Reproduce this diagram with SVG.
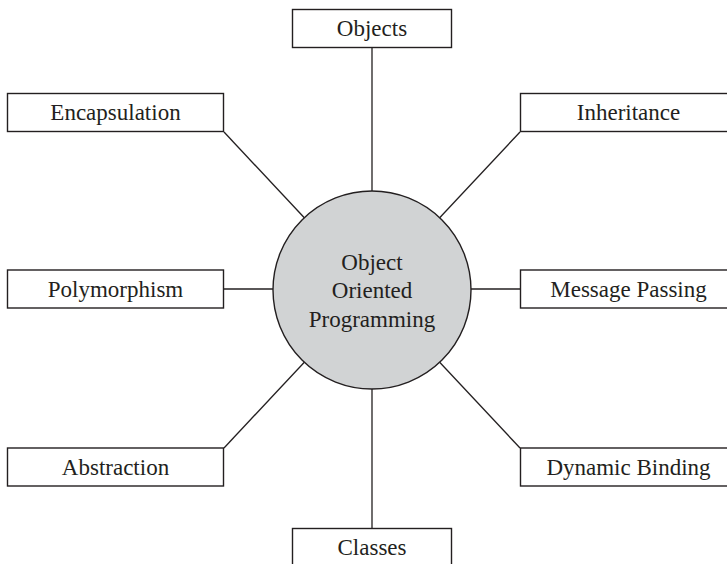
<svg xmlns="http://www.w3.org/2000/svg" width="727" height="564" viewBox="0 0 727 564">
  <style>
    .box { fill: #ffffff; stroke: #231f20; stroke-width: 1.4; }
    .lbl { font-family: "Liberation Serif", "Times New Roman", serif; font-size: 23px; fill: #231f20; text-anchor: middle; }
    .conn { stroke: #231f20; stroke-width: 1.3; fill: none; }
    .hub { fill: #d1d3d4; stroke: #231f20; stroke-width: 1.4; }
  </style>
  <rect width="727" height="564" fill="#ffffff"/>
  <g id="connectors">
    <line class="conn" x1="372" y1="48" x2="372" y2="191"/>
    <line class="conn" x1="372" y1="389" x2="372" y2="529"/>
    <line class="conn" x1="224" y1="289" x2="273" y2="289"/>
    <line class="conn" x1="471" y1="289" x2="520" y2="289"/>
    <line class="conn" x1="224" y1="132" x2="304.3" y2="217.8"/>
    <line class="conn" x1="520" y1="132" x2="439.7" y2="217.8"/>
    <line class="conn" x1="224" y1="448" x2="304.3" y2="362.2"/>
    <line class="conn" x1="520" y1="448" x2="439.7" y2="362.2"/>
  </g>
  <g id="oop">
    <circle class="hub" cx="372" cy="290" r="99"/>
    <text class="lbl" x="372" y="270">Object</text>
    <text class="lbl" x="372" y="298">Oriented</text>
    <text class="lbl" x="372" y="327">Programming</text>
  </g>
  <g id="objects">
    <rect class="box" x="292.5" y="9.5" width="159" height="38"/>
    <text class="lbl" x="372" y="36">Objects</text>
  </g>
  <g id="encapsulation">
    <rect class="box" x="7.5" y="93.5" width="216" height="38"/>
    <text class="lbl" x="115.5" y="120">Encapsulation</text>
  </g>
  <g id="inheritance">
    <rect class="box" x="520.5" y="93.5" width="216" height="38"/>
    <text class="lbl" x="628.5" y="120">Inheritance</text>
  </g>
  <g id="polymorphism">
    <rect class="box" x="7.5" y="270" width="216" height="38"/>
    <text class="lbl" x="115.5" y="297">Polymorphism</text>
  </g>
  <g id="message-passing">
    <rect class="box" x="520.5" y="270" width="216" height="38"/>
    <text class="lbl" x="628.5" y="297">Message Passing</text>
  </g>
  <g id="abstraction">
    <rect class="box" x="7.5" y="448" width="216" height="38"/>
    <text class="lbl" x="115.5" y="475">Abstraction</text>
  </g>
  <g id="dynamic-binding">
    <rect class="box" x="520.5" y="448" width="216" height="38"/>
    <text class="lbl" x="628.5" y="475">Dynamic Binding</text>
  </g>
  <g id="classes">
    <rect class="box" x="292.5" y="528.5" width="159" height="38"/>
    <text class="lbl" x="372" y="555">Classes</text>
  </g>
</svg>
